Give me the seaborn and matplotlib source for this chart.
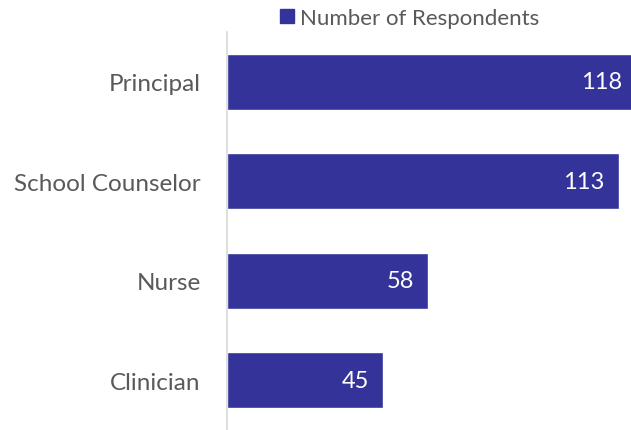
import matplotlib
matplotlib.use("Agg")
import matplotlib.pyplot as plt
import seaborn as sns
import pandas as pd
from matplotlib.patches import Patch

# Survey respondents by role
roles = ["Principal", "School Counselor", "Nurse", "Clinician"]
respondents = [118, 113, 58, 45]
series_name = "Number of Respondents"

bar_color = "#333399"
text_gray = "#595959"

sns.set_theme(style="white")
plt.rcParams["font.family"] = ["Lato", "DejaVu Sans"]

df = pd.DataFrame({"role": roles, "count": respondents})

fig = plt.figure(figsize=(6.31, 4.31), dpi=100)
ax = fig.add_axes([227 / 631, 0.0, 404 / 631, 398 / 431])

sns.barplot(data=df, x="count", y="role", orient="h", color=bar_color,
            width=0.56, saturation=1, ax=ax)

ax.set_xlim(0, 116.5)
ax.set_ylim(3.5, -0.5)
ax.set_xlabel("")
ax.set_ylabel("")
ax.set_xticks([])

for side in ["top", "right", "bottom"]:
    ax.spines[side].set_visible(False)
ax.spines["left"].set_color("#d9d9d9")
ax.spines["left"].set_linewidth(1.2)

ax.tick_params(axis="y", length=0, pad=19, labelsize=17.5, labelcolor=text_gray)

for i, v in enumerate(respondents):
    ax.annotate(str(v), xy=(v, i), xytext=(-14, 0), textcoords="offset pixels",
                ha="right", va="center", color="white", fontsize=17,
                annotation_clip=False)

handle = Patch(facecolor=bar_color, edgecolor=bar_color)
fig.legend([handle], [series_name], loc="center",
           bbox_to_anchor=(410 / 631, 1 - 19 / 431), frameon=False,
           handlelength=0.6, handleheight=0.6, handletextpad=0.3,
           fontsize=16, labelcolor=text_gray)

fig.savefig("out.png", dpi=100)
